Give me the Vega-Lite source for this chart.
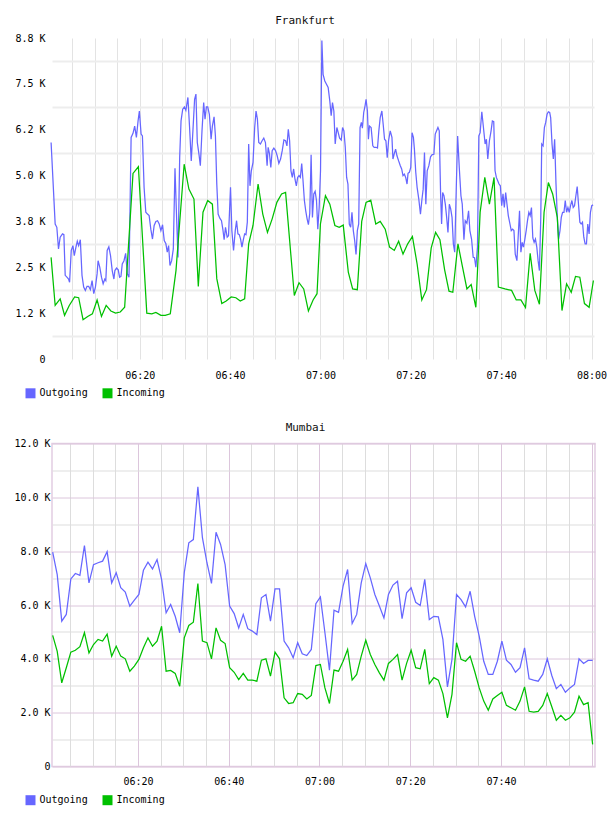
{
  "$schema": "https://vega.github.io/schema/vega-lite/v6.json",
  "background": "white",
  "padding": {"left": 0, "top": 15, "right": 0, "bottom": 0},
  "config": {
    "view": {"stroke": null},
    "font": "DejaVu Sans Mono",
    "axis": {"labelFont": "DejaVu Sans Mono", "labelFontSize": 10, "labelColor": "#000000", "domain": false, "ticks": false, "tickSize": 0, "labelFlush": false, "labelOverlap": false, "labelBound": false},
    "title": {"font": "DejaVu Sans Mono", "fontSize": 11, "fontWeight": "normal", "color": "#111111"},
    "legend": {"orient": "none", "direction": "horizontal", "symbolType": "M-1,0H1", "symbolSize": 100, "symbolStrokeWidth": 10, "symbolOpacity": 1, "labelFont": "DejaVu Sans Mono", "labelFontSize": 10, "labelColor": "#000000", "labelOffset": -1, "columnPadding": -6, "padding": 0},
    "concat": {"spacing": 6.5}
  },
  "datasets": {
    "fo": [
      {"t":0.39,"v":5900},{"t":1.29,"v":3680},{"t":1.66,"v":3590},{"t":2.03,"v":3000},{"t":2.40,"v":3320},{"t":2.92,"v":3410},{"t":3.22,"v":3390},{"t":3.51,"v":2280},{"t":3.89,"v":2230},{"t":4.26,"v":2180},
      {"t":4.48,"v":2090},{"t":4.85,"v":2960},{"t":5.22,"v":3090},{"t":5.52,"v":2820},{"t":5.89,"v":3050},{"t":6.19,"v":3210},{"t":6.49,"v":3090},{"t":6.86,"v":3250},{"t":7.23,"v":2280},{"t":7.60,"v":1960},
      {"t":7.97,"v":1870},{"t":8.34,"v":1980},{"t":8.71,"v":1980},{"t":9.09,"v":1890},{"t":9.46,"v":2140},{"t":9.83,"v":1780},{"t":10.20,"v":1960},{"t":10.57,"v":2320},{"t":10.79,"v":2680},{"t":11.17,"v":2500},
      {"t":11.54,"v":2230},{"t":11.91,"v":2050},{"t":12.28,"v":2180},{"t":12.50,"v":2140},{"t":12.80,"v":2960},{"t":13.17,"v":3060},{"t":13.54,"v":2820},{"t":13.92,"v":2410},{"t":14.29,"v":2180},{"t":14.51,"v":2410},
      {"t":14.88,"v":2480},{"t":15.25,"v":2430},{"t":15.55,"v":2230},{"t":15.85,"v":2250},{"t":16.14,"v":2590},{"t":16.52,"v":2680},{"t":16.89,"v":2880},{"t":17.26,"v":2320},{"t":17.63,"v":2230},{"t":18.10,"v":6040},
      {"t":18.52,"v":6150},{"t":18.89,"v":6350},{"t":19.27,"v":6040},{"t":19.64,"v":6490},{"t":19.93,"v":6760},{"t":20.31,"v":6130},{"t":20.60,"v":6080},{"t":20.97,"v":4680},{"t":21.35,"v":4000},{"t":21.72,"v":3950},
      {"t":22.09,"v":3910},{"t":22.46,"v":3540},{"t":22.83,"v":3270},{"t":23.20,"v":3640},{"t":23.58,"v":3750},{"t":23.95,"v":3770},{"t":24.32,"v":3680},{"t":24.69,"v":3500},{"t":25.06,"v":3660},{"t":25.43,"v":3230},
      {"t":25.80,"v":3140},{"t":26.10,"v":2910},{"t":26.40,"v":3090},{"t":26.70,"v":2550},{"t":27.07,"v":2680},{"t":27.44,"v":3000},{"t":27.81,"v":5200},{"t":28.18,"v":3800},{"t":28.48,"v":2770},{"t":28.85,"v":5500},
      {"t":29.15,"v":6490},{"t":29.52,"v":6810},{"t":29.89,"v":6870},{"t":30.22,"v":6780},{"t":30.67,"v":7130},{"t":31.04,"v":6310},{"t":31.41,"v":5400},{"t":31.78,"v":6220},{"t":32.15,"v":7080},{"t":32.45,"v":7220},
      {"t":32.75,"v":5900},{"t":33.12,"v":5580},{"t":33.42,"v":5270},{"t":33.79,"v":6220},{"t":34.16,"v":6990},{"t":34.46,"v":6540},{"t":34.76,"v":6870},{"t":35.05,"v":6870},{"t":35.42,"v":6670},{"t":35.80,"v":5990},
      {"t":36.09,"v":6350},{"t":36.46,"v":6600},{"t":36.76,"v":6080},{"t":37.06,"v":4770},{"t":37.36,"v":3950},{"t":37.73,"v":3840},{"t":38.10,"v":3770},{"t":38.40,"v":3540},{"t":38.69,"v":3250},{"t":38.99,"v":3590},
      {"t":39.36,"v":3320},{"t":39.66,"v":3360},{"t":40.10,"v":4680},{"t":40.40,"v":3500},{"t":40.77,"v":2960},{"t":41.15,"v":3500},{"t":41.44,"v":3770},{"t":41.74,"v":3410},{"t":42.04,"v":3390},{"t":42.33,"v":3270},
      {"t":42.63,"v":3050},{"t":42.93,"v":3250},{"t":43.23,"v":3410},{"t":43.52,"v":3390},{"t":43.82,"v":3730},{"t":44.12,"v":5860},{"t":44.41,"v":4720},{"t":44.71,"v":5130},{"t":45.08,"v":5360},{"t":45.45,"v":6310},
      {"t":45.75,"v":6760},{"t":46.05,"v":6540},{"t":46.35,"v":5900},{"t":46.72,"v":5860},{"t":47.09,"v":5950},{"t":47.46,"v":6020},{"t":47.83,"v":5900},{"t":48.20,"v":5270},{"t":48.43,"v":5770},{"t":48.72,"v":5600},
      {"t":49.02,"v":5220},{"t":49.32,"v":5680},{"t":49.69,"v":5750},{"t":50.06,"v":5680},{"t":50.43,"v":5540},{"t":50.80,"v":5330},{"t":51.18,"v":5450},{"t":51.55,"v":5680},{"t":51.92,"v":5970},{"t":52.29,"v":5950},
      {"t":52.59,"v":5810},{"t":52.89,"v":6260},{"t":53.18,"v":5950},{"t":53.48,"v":5130},{"t":53.78,"v":4950},{"t":54.07,"v":5180},{"t":54.37,"v":4900},{"t":54.67,"v":4720},{"t":54.96,"v":4950},{"t":55.26,"v":5000},
      {"t":55.56,"v":4950},{"t":55.86,"v":5330},{"t":56.15,"v":4860},{"t":56.45,"v":4320},{"t":56.75,"v":4040},{"t":57.05,"v":3820},{"t":57.34,"v":3660},{"t":57.64,"v":3970},{"t":57.94,"v":5570},{"t":58.23,"v":3860},
      {"t":58.53,"v":4500},{"t":58.83,"v":4570},{"t":59.13,"v":4320},{"t":59.42,"v":3540},{"t":59.72,"v":4130},{"t":60.02,"v":5130},{"t":60.32,"v":8680},{"t":60.59,"v":7760},{"t":60.97,"v":7580},{"t":61.34,"v":7490},
      {"t":61.71,"v":7400},{"t":62.08,"v":7030},{"t":62.38,"v":6630},{"t":62.67,"v":6990},{"t":62.97,"v":6760},{"t":63.27,"v":5860},{"t":63.64,"v":6310},{"t":63.94,"v":6170},{"t":64.24,"v":6020},{"t":64.61,"v":5970},
      {"t":64.90,"v":6310},{"t":65.20,"v":6220},{"t":65.50,"v":5770},{"t":65.80,"v":4950},{"t":66.09,"v":4770},{"t":66.39,"v":3680},{"t":66.69,"v":3590},{"t":66.98,"v":4000},{"t":67.28,"v":3500},{"t":67.58,"v":3230},
      {"t":67.88,"v":2850},{"t":68.17,"v":3500},{"t":68.47,"v":3680},{"t":68.77,"v":6310},{"t":69.06,"v":6450},{"t":69.29,"v":6290},{"t":69.58,"v":6720},{"t":69.88,"v":6900},{"t":70.10,"v":7080},{"t":70.40,"v":6760},
      {"t":70.62,"v":5990},{"t":70.85,"v":6350},{"t":71.22,"v":6310},{"t":71.59,"v":5810},{"t":71.89,"v":5770},{"t":72.33,"v":5770},{"t":72.63,"v":5750},{"t":72.93,"v":6220},{"t":73.23,"v":6580},{"t":73.60,"v":6760},
      {"t":73.89,"v":6400},{"t":74.19,"v":5990},{"t":74.49,"v":5950},{"t":74.79,"v":5490},{"t":75.08,"v":5950},{"t":75.45,"v":6220},{"t":75.83,"v":6040},{"t":76.05,"v":5450},{"t":76.35,"v":5600},{"t":76.64,"v":5720},
      {"t":76.94,"v":5540},{"t":77.31,"v":5400},{"t":77.68,"v":5270},{"t":77.98,"v":5180},{"t":78.28,"v":5000},{"t":78.58,"v":5040},{"t":78.87,"v":4950},{"t":79.17,"v":4770},{"t":79.39,"v":5060},{"t":79.69,"v":5090},
      {"t":79.99,"v":5220},{"t":80.28,"v":6170},{"t":80.58,"v":6040},{"t":80.80,"v":5720},{"t":81.10,"v":5090},{"t":81.40,"v":4680},{"t":81.77,"v":4360},{"t":82.14,"v":3950},{"t":82.44,"v":4320},{"t":82.74,"v":4630},
      {"t":83.03,"v":5630},{"t":83.33,"v":4220},{"t":83.63,"v":5130},{"t":84.00,"v":5270},{"t":84.37,"v":5510},{"t":84.74,"v":5570},{"t":85.11,"v":5580},{"t":85.41,"v":6130},{"t":85.71,"v":6220},{"t":86.01,"v":6310},
      {"t":86.30,"v":6220},{"t":86.60,"v":4500},{"t":86.82,"v":3680},{"t":87.05,"v":4540},{"t":87.34,"v":4450},{"t":87.64,"v":4220},{"t":87.94,"v":3860},{"t":88.23,"v":3450},{"t":88.53,"v":4220},{"t":88.83,"v":4090},
      {"t":89.13,"v":3860},{"t":89.42,"v":3140},{"t":89.72,"v":2910},{"t":90.07,"v":4680},{"t":90.37,"v":6080},{"t":90.73,"v":5220},{"t":91.10,"v":4450},{"t":91.39,"v":4220},{"t":91.76,"v":3250},{"t":92.05,"v":3770},
      {"t":92.42,"v":3700},{"t":92.79,"v":4040},{"t":93.08,"v":3500},{"t":93.45,"v":3270},{"t":93.81,"v":2770},{"t":94.10,"v":2760},{"t":94.40,"v":2500},{"t":94.76,"v":3050},{"t":95.06,"v":6080},{"t":95.35,"v":6170},
      {"t":95.72,"v":6740},{"t":96.08,"v":6310},{"t":96.45,"v":5860},{"t":96.74,"v":5990},{"t":97.04,"v":5450},{"t":97.40,"v":5950},{"t":97.77,"v":6220},{"t":98.06,"v":6490},{"t":98.36,"v":6470},{"t":98.65,"v":5130},
      {"t":98.94,"v":4950},{"t":99.24,"v":4860},{"t":99.53,"v":4770},{"t":99.82,"v":4720},{"t":100.12,"v":4180},{"t":100.41,"v":4500},{"t":100.70,"v":4130},{"t":101.00,"v":4540},{"t":101.29,"v":4220},{"t":101.58,"v":3910},
      {"t":101.95,"v":3680},{"t":102.24,"v":3500},{"t":102.53,"v":3540},{"t":102.83,"v":3500},{"t":103.12,"v":2860},{"t":103.49,"v":2680},{"t":103.78,"v":3360},{"t":104.07,"v":4040},{"t":104.37,"v":2910},{"t":104.66,"v":3180},
      {"t":104.95,"v":3050},{"t":105.25,"v":3270},{"t":105.54,"v":3500},{"t":105.83,"v":3770},{"t":106.13,"v":4000},{"t":106.42,"v":3910},{"t":106.71,"v":4130},{"t":107.01,"v":3300},{"t":107.30,"v":3180},{"t":107.59,"v":3270},
      {"t":107.89,"v":3050},{"t":108.18,"v":2680},{"t":108.47,"v":2410},{"t":108.77,"v":3860},{"t":108.98,"v":5860},{"t":109.28,"v":5810},{"t":109.57,"v":6310},{"t":109.86,"v":6450},{"t":110.16,"v":6670},{"t":110.45,"v":6740},
      {"t":110.74,"v":6720},{"t":110.96,"v":6580},{"t":111.26,"v":5860},{"t":111.55,"v":5450},{"t":111.84,"v":5990},{"t":112.14,"v":4770},{"t":112.43,"v":3860},{"t":112.72,"v":3270},{"t":113.02,"v":3500},{"t":113.31,"v":3860},
      {"t":113.60,"v":4000},{"t":113.90,"v":4000},{"t":114.19,"v":4320},{"t":114.48,"v":4000},{"t":114.78,"v":4130},{"t":115.07,"v":4000},{"t":115.36,"v":4180},{"t":115.66,"v":4320},{"t":115.95,"v":4130},{"t":116.24,"v":4180},
      {"t":116.54,"v":4450},{"t":116.83,"v":4700},{"t":117.12,"v":4220},{"t":117.42,"v":3730},{"t":117.71,"v":3680},{"t":118.00,"v":3730},{"t":118.29,"v":3320},{"t":118.59,"v":3140},{"t":118.88,"v":3140},{"t":119.17,"v":3680},
      {"t":119.47,"v":3410},{"t":119.76,"v":4000},{"t":120.05,"v":4180},{"t":120.35,"v":4200}
    ],
    "fi": [
      {"t":0.39,"v":2770},{"t":1.29,"v":1460},{"t":2.40,"v":1640},{"t":3.37,"v":1190},{"t":4.41,"v":1460},{"t":5.60,"v":1690},{"t":6.49,"v":1670},{"t":7.46,"v":1070},{"t":8.49,"v":1160},{"t":9.53,"v":1230},
      {"t":10.57,"v":1610},{"t":11.54,"v":1160},{"t":12.58,"v":1460},{"t":13.62,"v":1310},{"t":14.66,"v":1250},{"t":15.70,"v":1280},{"t":16.67,"v":1410},{"t":18.52,"v":5060},{"t":19.71,"v":5240},{"t":21.57,"v":1250},
      {"t":22.68,"v":1230},{"t":23.58,"v":1270},{"t":24.69,"v":1190},{"t":25.65,"v":1190},{"t":26.77,"v":1230},{"t":28.03,"v":2410},{"t":29.84,"v":5310},{"t":30.89,"v":4630},{"t":32.01,"v":4360},{"t":32.97,"v":1980},
      {"t":34.01,"v":4000},{"t":35.05,"v":4320},{"t":36.09,"v":4220},{"t":37.06,"v":2190},{"t":38.17,"v":1510},{"t":39.14,"v":1580},{"t":40.25,"v":1690},{"t":41.29,"v":1670},{"t":42.26,"v":1580},{"t":43.23,"v":1640},
      {"t":44.12,"v":3140},{"t":45.08,"v":3640},{"t":46.20,"v":4770},{"t":47.24,"v":3950},{"t":48.28,"v":3450},{"t":49.32,"v":3820},{"t":50.36,"v":4270},{"t":51.40,"v":4500},{"t":52.29,"v":4540},{"t":54.22,"v":1730},
      {"t":55.26,"v":2080},{"t":56.30,"v":1910},{"t":57.34,"v":1310},{"t":58.38,"v":1610},{"t":59.25,"v":1780},{"t":60.00,"v":3680},{"t":61.11,"v":4450},{"t":62.08,"v":4220},{"t":63.20,"v":3640},{"t":64.16,"v":3590},
      {"t":65.05,"v":3650},{"t":66.17,"v":2370},{"t":67.13,"v":1910},{"t":68.17,"v":1890},{"t":69.14,"v":3750},{"t":70.10,"v":4270},{"t":71.14,"v":4330},{"t":72.25,"v":3680},{"t":73.23,"v":3750},{"t":74.34,"v":3540},
      {"t":75.30,"v":3050},{"t":76.35,"v":2960},{"t":77.31,"v":3210},{"t":78.28,"v":2860},{"t":79.32,"v":3140},{"t":80.36,"v":3340},{"t":81.40,"v":2590},{"t":82.44,"v":1610},{"t":83.48,"v":1890},{"t":84.52,"v":3030},
      {"t":85.49,"v":3450},{"t":86.45,"v":3250},{"t":87.49,"v":2430},{"t":88.46,"v":1850},{"t":89.30,"v":1820},{"t":90.44,"v":3140},{"t":91.40,"v":2540},{"t":92.42,"v":1910},{"t":93.37,"v":2030},{"t":94.40,"v":1410},
      {"t":95.35,"v":4000},{"t":96.38,"v":4950},{"t":97.40,"v":4220},{"t":98.43,"v":4950},{"t":99.38,"v":1960},{"t":100.85,"v":1910},{"t":102.31,"v":1870},{"t":103.34,"v":1610},{"t":104.37,"v":1610},{"t":105.39,"v":1400},
      {"t":106.42,"v":2880},{"t":107.45,"v":1870},{"t":108.47,"v":1490},{"t":109.50,"v":4000},{"t":110.45,"v":4810},{"t":111.40,"v":4500},{"t":112.43,"v":3860},{"t":113.46,"v":1320},{"t":114.48,"v":2050},{"t":115.51,"v":1820},
      {"t":116.46,"v":2250},{"t":117.41,"v":2230},{"t":118.44,"v":1510},{"t":119.47,"v":1410},{"t":120.42,"v":2140}
    ],
    "mu": [
      {"t":1.2,"out":7960,"in":4870},{"t":2.2,"out":7130,"in":4280},{"t":3.2,"out":5400,"in":3110},{"t":4.2,"out":5650,"in":3670},{"t":5.2,"out":6970,"in":4250},
      {"t":6.2,"out":7170,"in":4320},{"t":7.2,"out":7100,"in":4450},{"t":8.2,"out":8210,"in":4970},{"t":9.2,"out":6820,"in":4220},{"t":10.2,"out":7500,"in":4530},
      {"t":11.2,"out":7570,"in":4720},{"t":12.2,"out":7630,"in":4660},{"t":13.2,"out":7980,"in":4920},{"t":14.2,"out":6820,"in":4100},{"t":15.2,"out":7200,"in":4470},
      {"t":16.2,"out":6640,"in":4100},{"t":17.2,"out":6480,"in":4000},{"t":18.2,"out":5960,"in":3540},{"t":19.2,"out":6180,"in":3730},{"t":20.2,"out":6390,"in":3980},
      {"t":21.2,"out":7290,"in":4410},{"t":22.2,"out":7590,"in":4780},{"t":23.2,"out":7340,"in":4470},{"t":24.2,"out":7690,"in":4660},{"t":25.2,"out":6950,"in":5210},
      {"t":26.2,"out":5710,"in":3540},{"t":27.2,"out":6020,"in":3570},{"t":28.2,"out":5580,"in":3460},{"t":29.2,"out":4970,"in":2980},{"t":30.2,"out":7200,"in":4780},
      {"t":31.2,"out":8310,"in":5240},{"t":32.2,"out":8430,"in":5360},{"t":33.2,"out":10390,"in":6800},{"t":34.2,"out":8500,"in":4660},{"t":35.2,"out":7570,"in":4600},
      {"t":36.2,"out":6800,"in":4000},{"t":37.2,"out":8700,"in":5150},{"t":38.2,"out":8250,"in":4690},{"t":39.2,"out":7500,"in":4570},{"t":40.2,"out":5960,"in":3670},
      {"t":41.2,"out":5680,"in":3500},{"t":42.2,"out":5150,"in":3230},{"t":43.2,"out":5650,"in":3460},{"t":44.2,"out":5120,"in":3210},{"t":45.2,"out":5030,"in":3210},
      {"t":46.2,"out":4900,"in":3170},{"t":47.2,"out":6270,"in":3950},{"t":48.2,"out":6390,"in":4000},{"t":49.2,"out":5400,"in":3360},{"t":50.2,"out":6600,"in":4250},
      {"t":51.2,"out":6600,"in":4000},{"t":52.2,"out":4660,"in":2550},{"t":53.2,"out":4410,"in":2340},{"t":54.2,"out":4040,"in":2370},{"t":55.2,"out":4600,"in":2710},
      {"t":56.2,"out":4190,"in":2680},{"t":57.2,"out":4120,"in":2510},{"t":58.2,"out":4350,"in":2640},{"t":59.2,"out":6050,"in":3750},{"t":60.2,"out":6300,"in":3790},
      {"t":61.2,"out":4970,"in":2920},{"t":62.2,"out":3580,"in":2340},{"t":63.2,"out":5810,"in":3580},{"t":64.2,"out":5730,"in":3540},{"t":65.2,"out":6700,"in":3910},
      {"t":66.2,"out":7320,"in":4350},{"t":67.2,"out":5310,"in":3210},{"t":68.2,"out":5650,"in":3420},{"t":69.2,"out":6820,"in":4100},{"t":70.2,"out":7540,"in":4690},
      {"t":71.2,"out":7010,"in":4160},{"t":72.2,"out":6390,"in":3790},{"t":73.2,"out":5960,"in":3480},{"t":74.2,"out":5520,"in":3210},{"t":75.2,"out":6390,"in":3830},
      {"t":76.2,"out":6740,"in":3980},{"t":77.2,"out":6880,"in":4160},{"t":78.2,"out":5490,"in":3210},{"t":79.2,"out":6450,"in":3830},{"t":80.2,"out":6640,"in":4320},
      {"t":81.2,"out":6100,"in":3670},{"t":82.2,"out":5980,"in":3630},{"t":83.2,"out":6950,"in":4350},{"t":84.2,"out":5460,"in":3080},{"t":85.2,"out":5580,"in":3300},
      {"t":86.2,"out":5560,"in":3210},{"t":87.2,"out":4720,"in":2710},{"t":88.2,"out":2960,"in":1810},{"t":89.2,"out":3980,"in":2680},{"t":90.2,"out":6390,"in":4600},
      {"t":91.2,"out":6200,"in":3980},{"t":92.2,"out":5930,"in":3910},{"t":93.2,"out":6510,"in":4100},{"t":94.2,"out":5580,"in":3540},{"t":95.2,"out":4840,"in":2920},
      {"t":96.2,"out":3910,"in":2430},{"t":97.2,"out":3420,"in":2090},{"t":98.2,"out":3420,"in":2510},{"t":99.2,"out":3910,"in":2640},{"t":100.2,"out":4660,"in":2760},
      {"t":101.2,"out":3950,"in":2270},{"t":102.2,"out":3790,"in":2180},{"t":103.2,"out":3500,"in":2090},{"t":104.2,"out":3670,"in":2430},{"t":105.2,"out":4410,"in":2960},
      {"t":106.2,"out":3260,"in":2050},{"t":107.2,"out":3210,"in":2020},{"t":108.2,"out":3170,"in":2050},{"t":109.2,"out":3420,"in":2270},{"t":110.2,"out":4000,"in":2710},
      {"t":111.2,"out":3380,"in":2220},{"t":112.2,"out":2890,"in":1720},{"t":113.2,"out":3050,"in":1900},{"t":114.2,"out":2760,"in":1720},{"t":115.2,"out":2920,"in":1810},
      {"t":116.2,"out":3050,"in":2020},{"t":117.2,"out":4000,"in":2610},{"t":118.2,"out":3830,"in":2300},{"t":119.2,"out":3940,"in":2370},{"t":120.2,"out":3940,"in":820}
    ]
  },
  "resolve": {"scale": {"color": "independent", "x": "independent", "y": "independent"}, "legend": {"color": "independent"}},
  "vconcat": [
    {
      "width": 542,
      "height": 321,
      "title": {"text": "Frankfurt", "frame": "group", "anchor": "middle", "dx": -18, "offset": 7},
      "layer": [
        {
          "data": {"name": "fo"},
          "mark": {"type": "line"},
          "encoding": {
            "x": {"field": "t", "type": "quantitative", "scale": {"domain": [0.59, 120.55], "nice": false, "zero": false},
              "axis": {"title": null, "tickCount": 500, "values": [5,10,15,20,25,30,35,40,45,50,55,60,65,70,75,80,85,90,95,100,105,110,115,120], "grid": true, "gridColor": "#e3e3e3", "gridWidth": 1, "labelPadding": 11,
                "labelExpr": "datum.value % 20 === 0 ? timeFormat(datetime(2000,0,1,6,datum.value), '%H:%M') : ''"}},
            "y": {"field": "v", "type": "quantitative", "scale": {"domain": [0, 8750], "nice": false},
              "axis": {"title": null, "tickCount": 500, "values": [0,625,1250,1875,2500,3125,3750,4375,5000,5625,6250,6875,7500,8125,8750], "grid": true, "gridColor": "#ededed", "gridWidth": 2,
                "gridOpacity": {"condition": {"test": "datum.value % 1250 === 0", "value": 0}, "value": 1},
                "labelPadding": 7, "minExtent": 51, "maxExtent": 51,
                "labelExpr": "datum.value % 1250 === 0 ? ['0','1.2 K','2.5 K','3.8 K','5.0 K','6.2 K','7.5 K','8.8 K'][round(datum.value / 1250)] : ''"}},
            "strokeWidth": {"value": 1.25},
            "color": {"datum": "Outgoing", "type": "nominal",
              "scale": {"domain": ["Outgoing", "Incoming"], "range": ["#6666ff", "#00c000"]},
              "legend": {"title": null, "orient": "none", "legendX": -31.5, "legendY": 345.3, "direction": "horizontal", "symbolType": "M-1,0H1", "symbolStrokeWidth": 10, "symbolSize": 100, "labelOffset": -1, "columnPadding": -6}}
          }
        },
        {
          "data": {"name": "fi"},
          "mark": {"type": "line"},
          "encoding": {
            "x": {"field": "t", "type": "quantitative"},
            "y": {"field": "v", "type": "quantitative"},
            "strokeWidth": {"value": 1.25},
            "color": {"datum": "Incoming", "type": "nominal"}
          }
        }
      ]
    },
    {
      "width": 543,
      "height": 323,
      "view": {"stroke": "#e2cde2", "strokeWidth": 1.5},
      "title": {"text": "Mumbai", "frame": "group", "anchor": "middle", "dx": -18, "offset": 5.5},
      "data": {"name": "mu"},
      "layer": [
        {
          "mark": {"type": "line"},
          "encoding": {
            "x": {"field": "t", "type": "quantitative", "scale": {"domain": [1.05, 120.72], "nice": false, "zero": false},
              "axis": {"title": null, "tickCount": 500, "values": [5,10,15,20,25,30,35,40,45,50,55,60,65,70,75,80,85,90,95,100,105,110,115,120], "grid": true, "gridWidth": 1,
                "gridColor": {"condition": {"test": "datum.value % 20 === 0", "value": "#dcc6dc"}, "value": "#dddddd"},
                "labelPadding": 10,
                "labelExpr": "datum.value % 20 === 0 && datum.value < 120 ? timeFormat(datetime(2000,0,1,6,datum.value), '%H:%M') : ''"}},
            "y": {"field": "out", "type": "quantitative", "scale": {"domain": [0, 12000], "nice": false},
              "axis": {"title": null, "tickCount": 500, "values": [0,1000,2000,3000,4000,5000,6000,7000,8000,9000,10000,11000,12000], "grid": true, "gridWidth": 1,
                "gridColor": {"condition": {"test": "datum.value % 2000 === 0", "value": "#dcc6dc"}, "value": "#dddddd"},
                "labelPadding": 2, "minExtent": 51, "maxExtent": 51,
                "labelExpr": "datum.value % 2000 !== 0 ? '' : (datum.value === 0 ? '0' : format(datum.value / 1000, '.1f') + ' K')"}},
            "strokeWidth": {"value": 1.25},
            "color": {"datum": "Outgoing", "type": "nominal",
              "scale": {"domain": ["Outgoing", "Incoming"], "range": ["#6666ff", "#00c000"]},
              "legend": {"title": null, "orient": "none", "legendX": -31.5, "legendY": 346.7, "direction": "horizontal", "symbolType": "M-1,0H1", "symbolStrokeWidth": 10, "symbolSize": 100, "labelOffset": -1, "columnPadding": -6}}
          }
        },
        {
          "mark": {"type": "line"},
          "encoding": {
            "x": {"field": "t", "type": "quantitative"},
            "y": {"field": "in", "type": "quantitative"},
            "strokeWidth": {"value": 1.25},
            "color": {"datum": "Incoming", "type": "nominal"}
          }
        }
      ]
    }
  ]
}
